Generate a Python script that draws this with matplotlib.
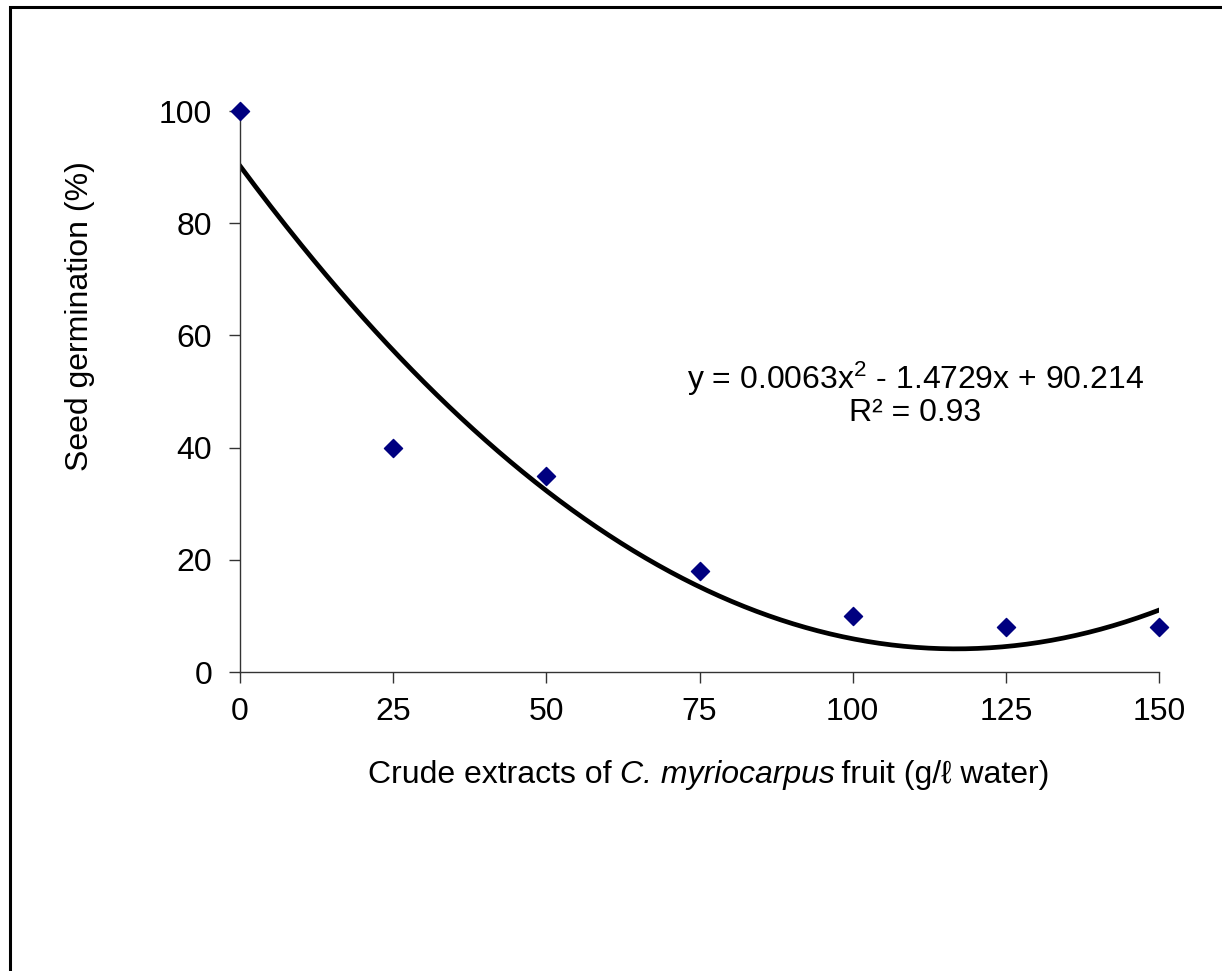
import matplotlib
matplotlib.use("Agg")
import matplotlib.pyplot as plt
import matplotlib.patches as patches
import numpy as np

conc = [0, 25, 50, 75, 100, 125, 150]
germination = [100, 40, 35, 18, 10, 8, 8]
coef = [0.0063, -1.4729, 90.214]
xticks = [0, 25, 50, 75, 100, 125, 150]
yticks = [0, 20, 40, 60, 80, 100]

plt.rcParams['font.family'] = ['Liberation Sans', 'DejaVu Sans']
plt.rcParams['mathtext.fontset'] = 'custom'
plt.rcParams['mathtext.rm'] = 'Liberation Sans'
plt.rcParams['mathtext.it'] = 'Liberation Sans:italic'

FS = 23
W, H = 1222, 971

fig = plt.figure(figsize=(W/100, H/100), dpi=100)
ax = fig.add_axes([240/W, 1-672/H, (1159-240)/W, (672-111)/H])

xs = np.linspace(0, 150, 300)
ax.plot(xs, np.polyval(coef, xs), color='black', lw=3.4, zorder=2)
ax.scatter(conc, germination, marker='D', s=85, color='#000080', zorder=3, clip_on=False)

ax.set_xlim(0, 150)
ax.set_ylim(0, 100)
ax.set_xticks(xticks)
ax.set_yticks(yticks)
for s in ['top', 'right']:
    ax.spines[s].set_visible(False)
for s in ['left', 'bottom']:
    ax.spines[s].set_color('#333333')
    ax.spines[s].set_linewidth(1.0)
ax.tick_params(axis='both', direction='out', length=8, width=1.0, color='#333333', labelsize=FS)
ax.tick_params(axis='y', pad=12)
ax.tick_params(axis='x', pad=10)

ax.text(110.2, 52.2, r"y = 0.0063x$^{2}$ - 1.4729x + 90.214", ha='center', va='center', fontsize=FS)
ax.text(110.2, 46.2, "R² = 0.93", ha='center', va='center', fontsize=FS)

fig.text(80/W, 1-316/H, "Seed germination (%)", rotation=90, ha='center', va='center', fontsize=FS)

t1 = fig.text(368/W, 1-790/H, "Crude extracts of ", ha='left', va='bottom', fontsize=FS)
t2 = fig.add_artist(plt.Annotation("C. myriocarpus", xy=(1, 0), xycoords=t1, ha='left', va='bottom',
                                   fontsize=FS, fontstyle='italic'))
t3 = fig.add_artist(plt.Annotation("\u2009fruit (g/ℓ water)", xy=(1, 0), xycoords=t2, ha='left', va='bottom',
                                   fontsize=FS))

rect = patches.Rectangle((10/W, -0.1), 1.2, (1-7/H) + 0.1, transform=fig.transFigure,
                         fill=False, edgecolor='black', lw=2.2, clip_on=False)
fig.add_artist(rect)

fig.savefig("out.png", dpi=100)
